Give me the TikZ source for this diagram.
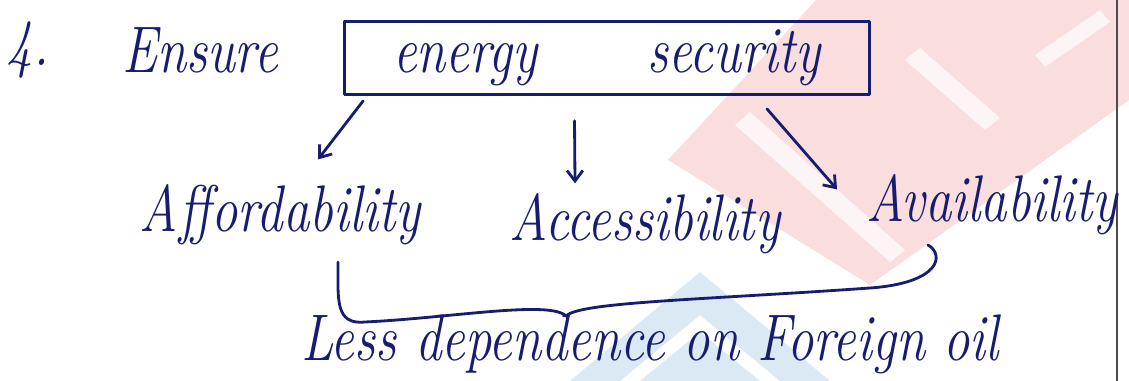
\documentclass[tikz,border=0pt]{standalone}
\usepackage{graphicx}
\usetikzlibrary{arrows.meta}

\definecolor{ink}{RGB}{22,28,112}
\definecolor{markpink}{RGB}{250,222,222}
\definecolor{markblue}{RGB}{218,233,243}

% written a little taller than the font draws it
\newcommand{\tall}[1]{\scalebox{1}[1.25]{#1}}

\tikzset{
    hand/.style={text=ink, font=\fontsize{30}{34}\selectfont\itshape, inner sep=0pt},
    pen/.style={draw=ink, line width=1.6pt, line cap=round, line join=round},
    arr/.style={pen, -{Straight Barb[length=6pt,width=9pt]}}
}

\begin{document}
\begin{tikzpicture}[x=0.02cm, y=-0.02cm]
    \useasboundingbox (0,0) rectangle (1129,381);

    % faint stamp behind the writing
    \fill[markpink] (816,0) -- (1129,0) -- (1129,100) -- (870,285) -- (668,160) -- cycle;
    \fill[white, opacity=0.7] (735,125) -- (750,112) -- (905,250) -- (890,262) -- cycle;
    \fill[white, opacity=0.7] (905,60) -- (920,48) -- (1000,118) -- (985,130) -- cycle;
    \fill[white, opacity=0.7] (1035,55) -- (1100,10) -- (1110,22) -- (1045,67) -- cycle;
    \fill[markblue] (570,381) -- (700,272) -- (830,381) -- (780,381) -- (700,315) -- (620,381) -- cycle;
    \fill[markblue] (640,381) -- (700,332) -- (760,381) -- cycle;

    % page margin
    \draw[black!70, line width=1pt] (1117,0) -- (1117,381);

    \node[hand] (num) at (28,50) {\tall{4.}};
    \node[hand] (ensure) at (200,50) {\tall{Ensure}};
    \node[pen, hand, minimum width=10.5cm, minimum height=1.46cm,
          text height=0.9cm, text depth=0.3cm] (box) at (607,58)
        {\tall{energy\hspace{2.2cm}security}};

    \node[hand] (afford) at (280,215) {\tall{A\kern1pt ffordability}};
    \node[hand] (access) at (645,224) {\tall{Accessibility}};
    \node[hand] (avail) at (992,205) {\tall{Availability}};

    \node[hand] (less) at (650,344) {\tall{Less dependence on Foreign oil}};

    \draw[arr] ([xshift=0.4cm,yshift=-0.1cm]box.south west) -- ([xshift=0.76cm,yshift=0.5cm]afford.north);
    \draw[arr] ([xshift=-0.65cm,yshift=-0.5cm]box.south) -- ([xshift=-1.4cm,yshift=0.2cm]access.north);
    \draw[arr] ([xshift=3.2cm,yshift=-0.26cm]box.south) -- ([xshift=-3.1cm,yshift=-0.3cm]avail.north);

    % brace gathering the three
    \draw[pen] (338,262) .. controls (338,300) and (335,325) .. (365,322)
        .. controls (450,318) and (550,300) .. (566,316)
        .. controls (580,302) and (700,300) .. (870,288)
        .. controls (940,283) and (945,255) .. (928,245);
\end{tikzpicture}
\end{document}
